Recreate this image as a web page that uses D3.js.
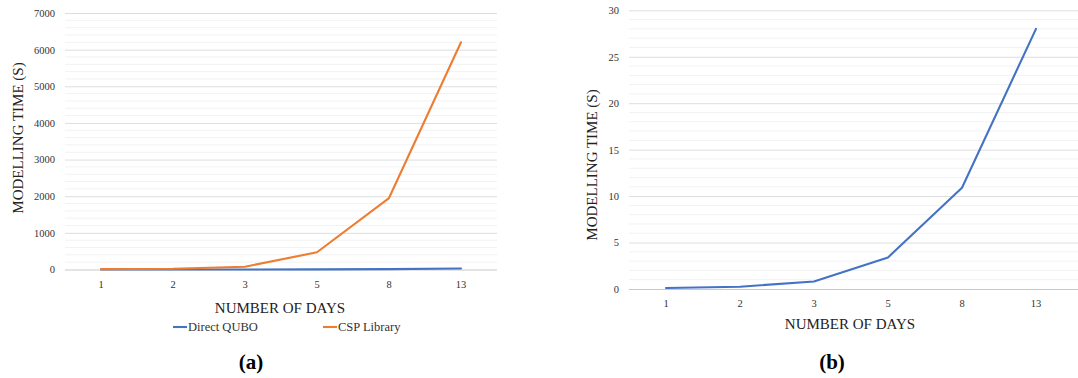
<!DOCTYPE html>
<html>
<head>
<meta charset="utf-8">
<script src="https://cdn.jsdelivr.net/npm/d3@7/dist/d3.min.js"></script>
<style>
  html, body { margin: 0; padding: 0; background: #fff; }
  svg { display: block; }
</style>
</head>
<body>
<svg id="fig" width="1078" height="378"></svg>
<script>
// Number of days in each scheduling instance
const days = ["1", "2", "3", "5", "8", "13"];
// Modelling time in seconds
const directQubo = [0.1, 0.25, 0.8, 3.4, 10.9, 28];
const cspLibrary = [10, 20, 75, 470, 1950, 6200];

const ticksA = [0, 1000, 2000, 3000, 4000, 5000, 6000, 7000];
const ticksB = [0, 5, 10, 15, 20, 25, 30];

const seriesNames = ["Direct QUBO", "CSP Library"];
const colors = { "Direct QUBO": "#4472c4", "CSP Library": "#ed7d31" };

const SERIF = "'Liberation Serif', 'Times New Roman', serif";
const svg = d3.select("#fig");

function panel(cfg) {
  const g = svg.append("g");
  const x = d3.scaleBand().domain(days).range([cfg.left, cfg.right]).padding(0);
  const y = d3.scaleLinear().domain([0, cfg.max]).range([cfg.bottom, cfg.top]);
  const cx = d => x(d) + x.bandwidth() / 2;

  // minor gridlines
  const minor = d3.range(0, cfg.max + 1e-9, cfg.minorStep).filter(v => !cfg.ticks.includes(v));
  g.append("g").selectAll("line").data(minor).join("line")
    .attr("x1", cfg.left).attr("x2", cfg.gridRight)
    .attr("y1", d => y(d)).attr("y2", d => y(d))
    .attr("stroke", "#f2f2f2").attr("stroke-width", 1);

  // major gridlines + tick labels
  const yAxis = d3.axisLeft(y).tickValues(cfg.ticks).tickFormat(d3.format("d"))
    .tickSize(-(cfg.gridRight - cfg.left)).tickPadding(10);
  const ya = g.append("g").attr("transform", `translate(${cfg.left},0)`).call(yAxis)
    .attr("font-family", SERIF).attr("font-size", 10.5);
  ya.select(".domain").remove();
  ya.selectAll(".tick line").attr("stroke", d => d === 0 ? "#c8c8c8" : "#dedede").attr("stroke-width", 1);
  ya.selectAll(".tick text").attr("fill", "#333");

  // category labels
  const xAxis = d3.axisBottom(x).tickSize(0).tickPadding(cfg.xPad);
  const xa = g.append("g").attr("transform", `translate(0,${cfg.bottom})`).call(xAxis)
    .attr("font-family", SERIF).attr("font-size", 10.5);
  xa.select(".domain").remove();
  xa.selectAll(".tick text").attr("fill", "#333");

  // series lines
  const line = d3.line().x((d, i) => cx(days[i])).y(d => y(d));
  cfg.series.forEach(s => {
    g.append("path").datum(s.values)
      .attr("d", line)
      .attr("fill", "none")
      .attr("stroke", colors[s.name])
      .attr("stroke-width", 2.1)
      .attr("stroke-linejoin", "round")
      .attr("stroke-linecap", "round");
  });

  // axis titles
  g.append("text")
    .attr("transform", `translate(${cfg.yLabelX},${cfg.yLabelY}) rotate(-90)`)
    .attr("text-anchor", "middle")
    .attr("font-family", SERIF).attr("font-size", 15).attr("fill", "#222")
    .text("MODELLING TIME (S)");
  g.append("text")
    .attr("x", cfg.xLabelX).attr("y", cfg.xLabelY)
    .attr("text-anchor", "middle")
    .attr("font-family", SERIF).attr("font-size", 15).attr("fill", "#222")
    .text("NUMBER OF DAYS");

  // panel caption
  g.append("text")
    .attr("x", cfg.captionX).attr("y", 369)
    .attr("text-anchor", "middle")
    .attr("font-family", SERIF).attr("font-size", 21).attr("font-weight", "bold").attr("fill", "#000")
    .text(cfg.caption);
  return g;
}

const gA = panel({
  left: 65, right: 497, gridRight: 497, top: 13, bottom: 269.5,
  max: 7000, minorStep: 200, ticks: ticksA, xPad: 11,
  series: [{ name: "Direct QUBO", values: directQubo }, { name: "CSP Library", values: cspLibrary }],
  yLabelX: 23, yLabelY: 138, xLabelX: 280, xLabelY: 313, caption: "(a)", captionX: 251
});

const gB = panel({
  left: 629, right: 1073, gridRight: 1078, top: 10.3, bottom: 289,
  max: 30, minorStep: 1, ticks: ticksB, xPad: 11,
  series: [{ name: "Direct QUBO", values: directQubo }],
  yLabelX: 597, yLabelY: 165, xLabelX: 850, xLabelY: 329, caption: "(b)", captionX: 832
});

// legend for panel (a)
const legendX = d3.scalePoint().domain(seriesNames).range([173, 323]);
const lg = gA.append("g").selectAll("g").data(seriesNames).join("g")
  .attr("transform", d => `translate(${legendX(d)},327)`);
lg.append("line").attr("x1", 0).attr("x2", 14).attr("y1", 0).attr("y2", 0)
  .attr("stroke", d => colors[d]).attr("stroke-width", 2.1);
lg.append("text").attr("x", 15).attr("y", 4)
  .attr("font-family", SERIF).attr("font-size", 12.5).attr("fill", "#333").text(d => d);
</script>
</body>
</html>
